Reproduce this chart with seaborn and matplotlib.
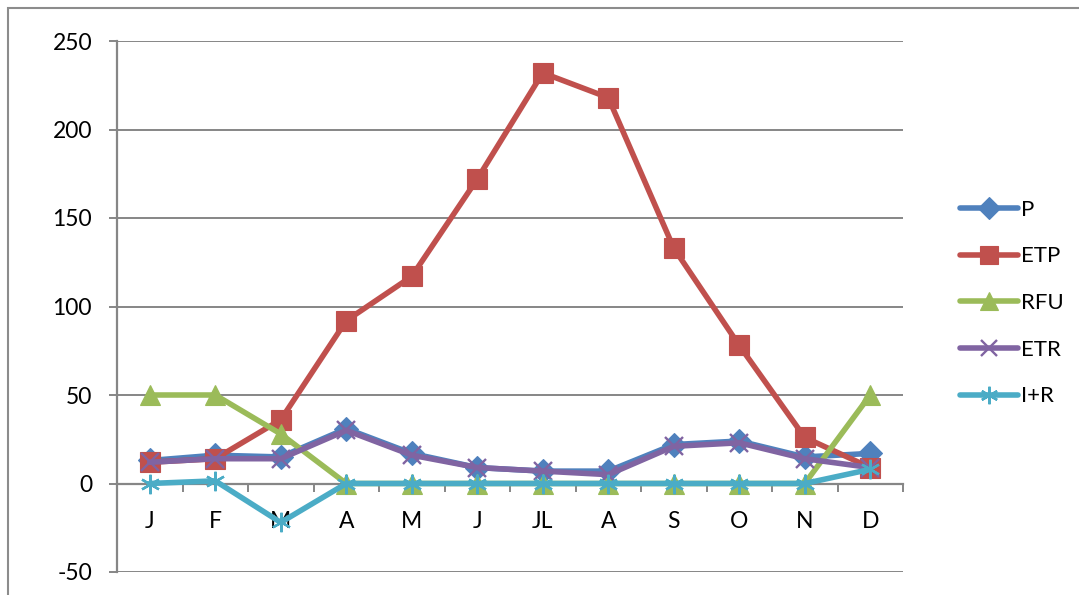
import matplotlib
matplotlib.use("Agg")
import matplotlib.pyplot as plt
import seaborn as sns
import pandas as pd
import numpy as np
from matplotlib.lines import Line2D
from matplotlib.patches import Rectangle

months = ["J", "F", "M", "A", "M", "J", "JL", "A", "S", "O", "N", "D"]
P   = [13, 16, 15, 31, 17, 9, 7, 7, 22, 24, 15, 17]
ETP = [12, 14, 36, 92, 117, 172, 232, 218, 133, 78, 26, 9]
RFU = [50, 50, 28, 0, 0, 0, 0, 0, 0, 0, 0, 50]
ETR = [12, 14, 14, 30, 16, 9, 7, 5, 21, 23, 14, 9]
IR  = [0, 1.5, -22, 0, 0, 0, 0, 0, 0, 0, 0, 8]
series_names = ["P", "ETP", "RFU", "ETR", "I+R"]
yticks = [-50, 0, 50, 100, 150, 200, 250]

colors = {"P": "#4F81BD", "ETP": "#C0504D", "RFU": "#9BBB59",
          "ETR": "#8064A2", "I+R": "#4BACC6"}
markers = {"P": "D", "ETP": "s", "RFU": "^", "ETR": "x", "I+R": (6, 2, 0)}
msizes = {"P": 12, "ETP": 14, "RFU": 14, "ETR": 13, "I+R": 14}

rows = []
for name, vals in zip(series_names, [P, ETP, RFU, ETR, IR]):
    for i, v in enumerate(vals):
        rows.append({"series": name, "idx": i, "value": v})
df = pd.DataFrame(rows)

sns.set_style("white")
plt.rcParams["font.family"] = ["Lato", "DejaVu Sans"]
plt.rcParams["text.color"] = "black"
plt.rcParams["xtick.color"] = "black"
plt.rcParams["ytick.color"] = "black"

fig = plt.figure(figsize=(10.79, 5.95), dpi=100)
ax = fig.add_axes([117 / 1079, 1 - 572 / 595, (903 - 117) / 1079, (572 - 41) / 595])

gray = "#868686"
for y in yticks:
    ax.axhline(y, color=gray, lw=1.4, zorder=0)

for name in series_names:
    sub = df[df["series"] == name]
    sns.lineplot(data=sub, x="idx", y="value", ax=ax, color=colors[name],
                 lw=4, marker=markers[name], markersize=msizes[name],
                 markeredgewidth=1.7 if name in ("ETR", "I+R") else 0.8,
                 markeredgecolor=colors[name], markerfacecolor=colors[name],
                 legend=False, zorder=3)

ax.set_xlim(-0.5, 11.5)
ax.set_ylim(-50, 250)
ax.set_xlabel("")
ax.set_ylabel("")

for s in ["top", "right"]:
    ax.spines[s].set_visible(False)
ax.spines["left"].set_color(gray)
ax.spines["left"].set_linewidth(1.6)
ax.spines["bottom"].set_position(("data", 0))
ax.spines["bottom"].set_color(gray)
ax.spines["bottom"].set_linewidth(1.6)

ax.set_yticks(yticks)
ax.set_yticklabels([str(v) for v in yticks])
ax.tick_params(axis="y", direction="out", length=6, width=1.4, color=gray,
               labelsize=16.5, pad=12, left=True, labelcolor="black")

ax.set_xticks(range(12))
ax.set_xticklabels(months)
ax.set_xticks(np.arange(-0.5, 12, 1), minor=True)
ax.tick_params(axis="x", which="major", length=0, labelsize=16.5, pad=20,
               labelcolor="black")
ax.tick_params(axis="x", which="minor", direction="out", length=6, width=1.4,
               color=gray, bottom=True)

handles = [Line2D([0], [0], color=colors[n], lw=4, marker=markers[n],
                  markersize=msizes[n] * 0.9, markerfacecolor=colors[n],
                  markeredgecolor=colors[n],
                  markeredgewidth=1.7 if n in ("ETR", "I+R") else 0.8)
           for n in series_names]
leg = fig.legend(handles, series_names, loc="center left",
                 bbox_to_anchor=(940 / 1079, 1 - 303 / 595), frameon=False,
                 fontsize=16, handlelength=2.6, labelspacing=1.2,
                 handletextpad=0.15)
for t in leg.get_texts():
    t.set_color("black")

border = Rectangle((8 / 1079, -0.1), 1.2, 1 - 8 / 595 + 0.1,
                   transform=fig.transFigure, fill=False, edgecolor="#8c8c8c",
                   lw=1.5)
fig.patches.append(border)

fig.savefig("out.png", dpi=100)
